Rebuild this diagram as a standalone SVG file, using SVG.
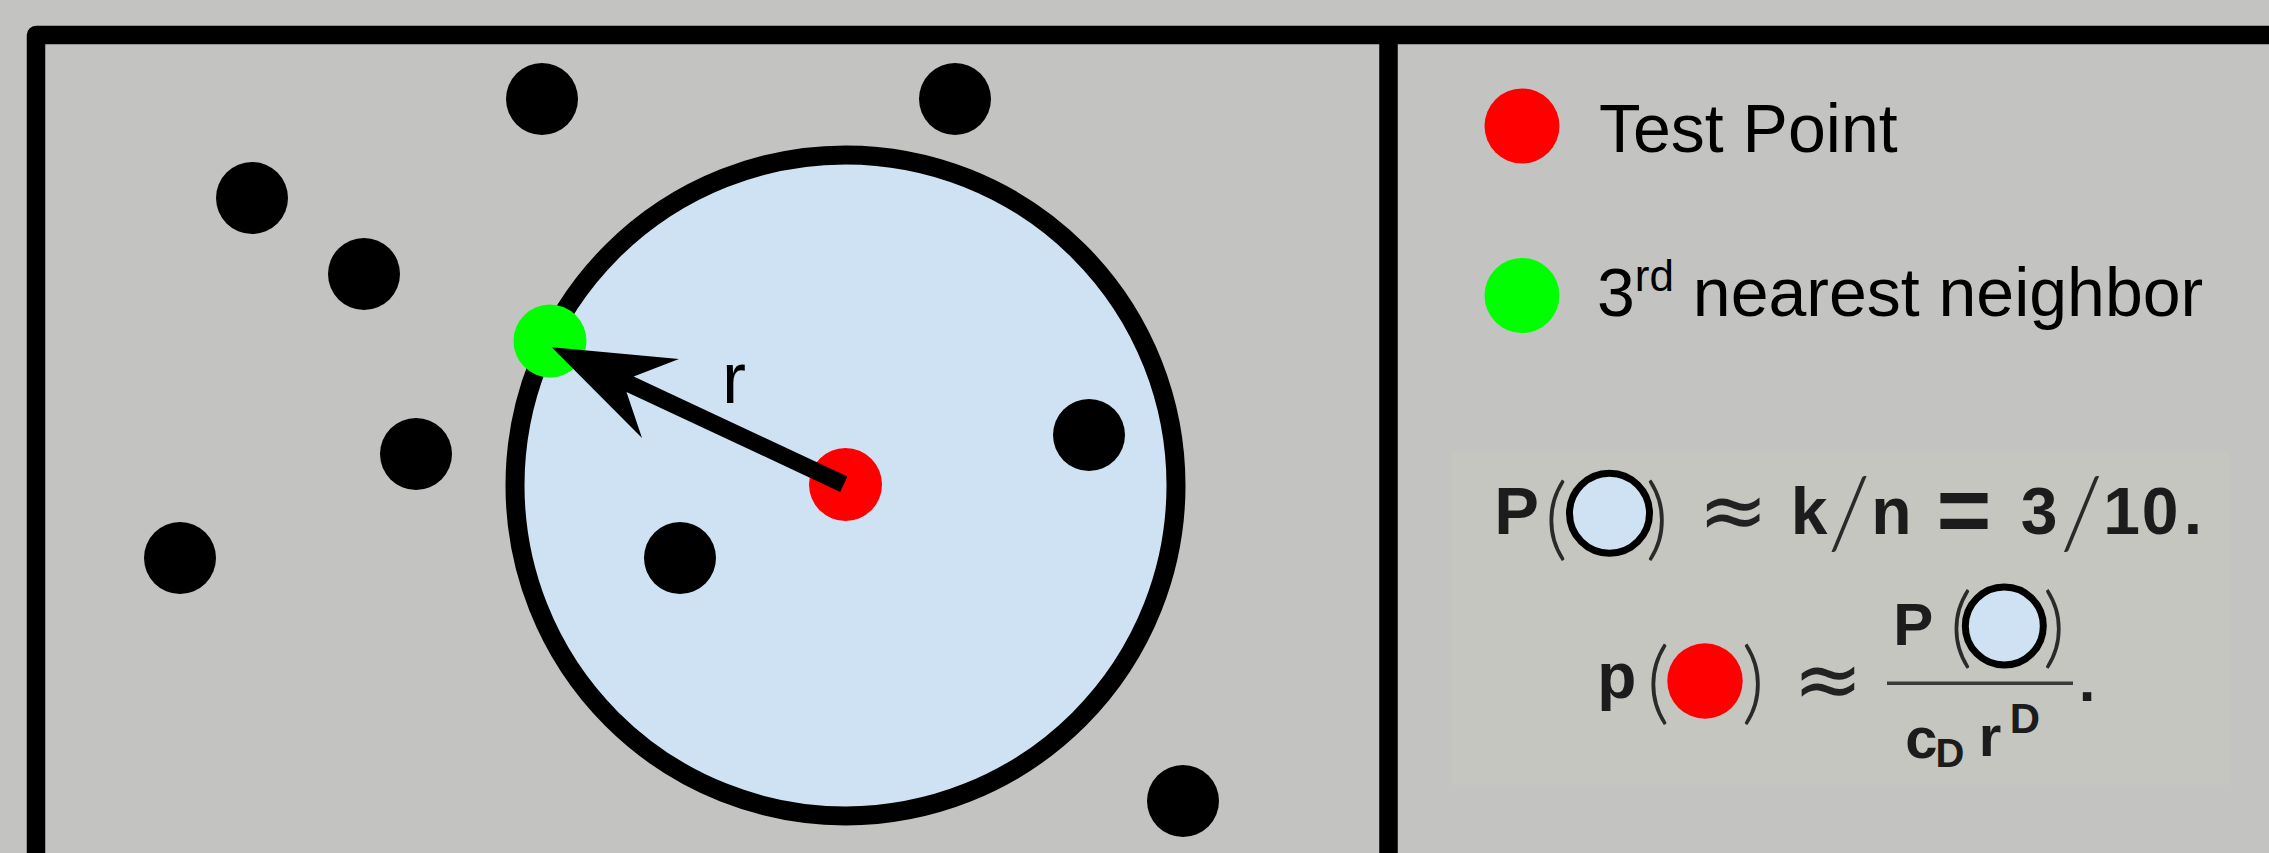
<svg xmlns="http://www.w3.org/2000/svg" width="2269" height="853" viewBox="0 0 2269 853">
<style>
.dot{fill:#000}
.lbl{font-family:"Liberation Sans",Arial,sans-serif;fill:#000}
.m{font-family:"Liberation Sans",Arial,sans-serif;font-weight:bold;fill:#1c1c1c;text-anchor:middle}
.t{font-family:Lato,"Liberation Sans",sans-serif;font-weight:300;fill:#2a2a2a;text-anchor:middle}
.s{font-family:"DejaVu Sans",sans-serif;fill:#222;text-anchor:middle}
.bub{fill:#cfe2f3;stroke:#000}
</style>
<rect width="2269" height="853" fill="#c3c4c2"/>
<g id="frame" fill="none" stroke="#000" stroke-width="18.5" stroke-linejoin="round">
<path d="M36,900 L36,35 L2320,35"/>
<path d="M1388.5,35 L1388.5,900"/>
</g>
<g id="neighborhood"><circle class="bub" cx="845.5" cy="485.4" r="330.5" stroke-width="19"/></g>
<g id="points">
<circle id="p1" class="dot" cx="542" cy="99" r="36"/>
<circle id="p2" class="dot" cx="955" cy="99" r="36"/>
<circle id="p3" class="dot" cx="252" cy="198" r="36"/>
<circle id="p4" class="dot" cx="364" cy="274" r="36"/>
<circle id="p5" class="dot" cx="416" cy="454" r="36"/>
<circle id="p6" class="dot" cx="180" cy="558" r="36"/>
<circle id="p7" class="dot" cx="680" cy="558" r="36"/>
<circle id="p8" class="dot" cx="1089" cy="435" r="36"/>
<circle id="p9" class="dot" cx="1183" cy="801" r="36"/>
</g>
<g id="neighbor"><circle cx="550" cy="341" r="36.5" fill="#00ff00"/></g>
<g id="testpoint"><circle cx="845.5" cy="484.5" r="36.5" fill="#ff0000"/></g>
<g id="connectors">
<polygon points="551.7,347.3 679,358.9 633.7,376.5 847.4,476.5 840.2,491.9 626.5,391.9 642,437.9" fill="#000"/>
<text class="lbl" x="722" y="403" font-size="72">r</text>
</g>
<g id="legend-test">
<circle cx="1522" cy="126" r="37.5" fill="#ff0000"/>
<text class="lbl" x="1599" y="152" font-size="68">Test Point</text>
</g>
<g id="legend-neighbor">
<circle cx="1522" cy="295.5" r="37.5" fill="#00ff00"/>
<text class="lbl" x="1597" y="315.5" font-size="68">3<tspan font-size="44" dy="-25">rd</tspan><tspan dy="25"> nearest neighbor</tspan></text>
</g>
<g id="formula">
<rect x="1452" y="452" width="777" height="333" fill="#c6c6c1"/>
<text class="m" x="1516.7" y="534" font-size="67">P</text>
<text class="t" x="1556" y="549" font-size="90">(</text>
<circle class="bub" cx="1609.5" cy="513.3" r="40" stroke-width="7"/>
<text class="t" x="1657" y="549" font-size="90">)</text>
<text class="s" x="1733.3" y="539" font-size="84">≈</text>
<text class="m" x="1809" y="534" font-size="66">k</text>
<text class="t" x="1849" y="548" font-size="98" font-weight="400">/</text>
<text class="m" x="1891.5" y="534" font-size="66">n</text>
<text class="m" x="1964" y="542" font-size="94" fill="#222">=</text>
<text class="m" x="2039" y="534" font-size="66">3</text>
<text class="t" x="2081.5" y="548" font-size="98" font-weight="400">/</text>
<text class="m" x="2121.5" y="534" font-size="66">1</text>
<text class="m" x="2160" y="534" font-size="66">0</text>
<text class="m" x="2193" y="534" font-size="66">.</text>
<text class="m" x="1616.7" y="698" font-size="64">p</text>
<text class="t" x="1658" y="713" font-size="90">(</text>
<circle cx="1705" cy="681" r="37.7" fill="#ff0000"/>
<text class="t" x="1753" y="713" font-size="90">)</text>
<text class="s" x="1828" y="708" font-size="84">≈</text>
<text class="m" x="1913.3" y="645" font-size="60">P</text>
<text class="t" x="1961" y="657" font-size="88">(</text>
<circle class="bub" cx="2004.3" cy="626" r="39" stroke-width="7"/>
<text class="t" x="2054" y="657" font-size="88">)</text>
<line x1="1887" y1="683.3" x2="2073" y2="683.3" stroke="#3a3a3a" stroke-width="3.5"/>
<text class="m" x="2087" y="701" font-size="60">.</text>
<text class="m" x="1921.5" y="758" font-size="58">c</text>
<text class="m" x="1950" y="766.7" font-size="40">D</text>
<text class="m" x="1990" y="756" font-size="58">r</text>
<text class="m" x="2025" y="733.3" font-size="42">D</text>
</g>
</svg>
